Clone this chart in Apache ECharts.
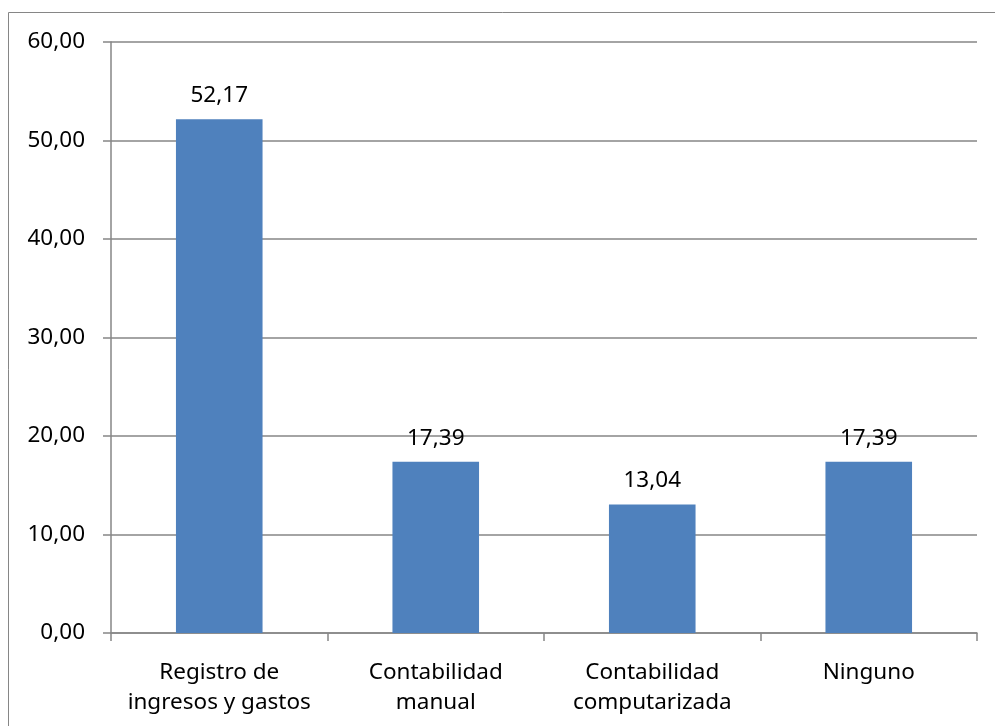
<!DOCTYPE html>
<html>
<head>
<meta charset="utf-8">
<script src="https://cdn.jsdelivr.net/npm/echarts@6/dist/echarts.min.js"></script>
<style>
  html, body { margin: 0; padding: 0; background: #fff; }
  #root { width: 995px; height: 726px; }
</style>
</head>
<body>
<div id="root"></div>
<script>
  const categories = ['Registro de\ningresos y gastos', 'Contabilidad\nmanual', 'Contabilidad\ncomputarizada', 'Ninguno'];
  const values = [52.17, 17.39, 13.04, 17.39];

  const font = '"Noto Sans", sans-serif';
  const axisGray = '#868686';
  const fmt = v => v.toFixed(2).replace('.', ',');

  const chart = echarts.init(document.getElementById('root'), null, { renderer: 'canvas' });
  chart.setOption({
    animation: false,
    backgroundColor: '#fff',
    graphic: [{
      type: 'rect',
      shape: { x: 8.5, y: 12.5, width: 1000, height: 800 },
      style: { fill: 'none', stroke: axisGray, lineWidth: 1 },
      silent: true
    }],
    grid: { left: 111, right: 18, top: 42, bottom: 93 },
    xAxis: {
      type: 'category',
      data: categories,
      axisLine: { lineStyle: { color: axisGray, width: 1.5 } },
      axisTick: { show: true, interval: 0, length: 8, lineStyle: { color: axisGray, width: 1.5 } },
      axisLabel: { interval: 0, color: '#000', fontFamily: font, fontSize: 22.5, lineHeight: 30, margin: 25 }
    },
    yAxis: {
      type: 'value',
      min: 0,
      max: 60,
      interval: 10,
      axisLine: { show: true, lineStyle: { color: axisGray, width: 1.5 } },
      axisTick: { show: true, length: 8, lineStyle: { color: axisGray, width: 1.5 } },
      splitLine: { lineStyle: { color: axisGray, width: 1.5 } },
      axisLabel: { color: '#000', fontFamily: font, fontSize: 22.5, margin: 26, formatter: v => fmt(v) }
    },
    series: [{
      type: 'bar',
      data: values,
      barWidth: '40%',
      itemStyle: { color: '#4F81BD' },
      label: {
        show: true,
        position: 'top',
        distance: 12,
        color: '#000',
        fontFamily: font,
        fontSize: 22.5,
        formatter: p => fmt(p.value)
      }
    }]
  });
</script>
</body>
</html>
